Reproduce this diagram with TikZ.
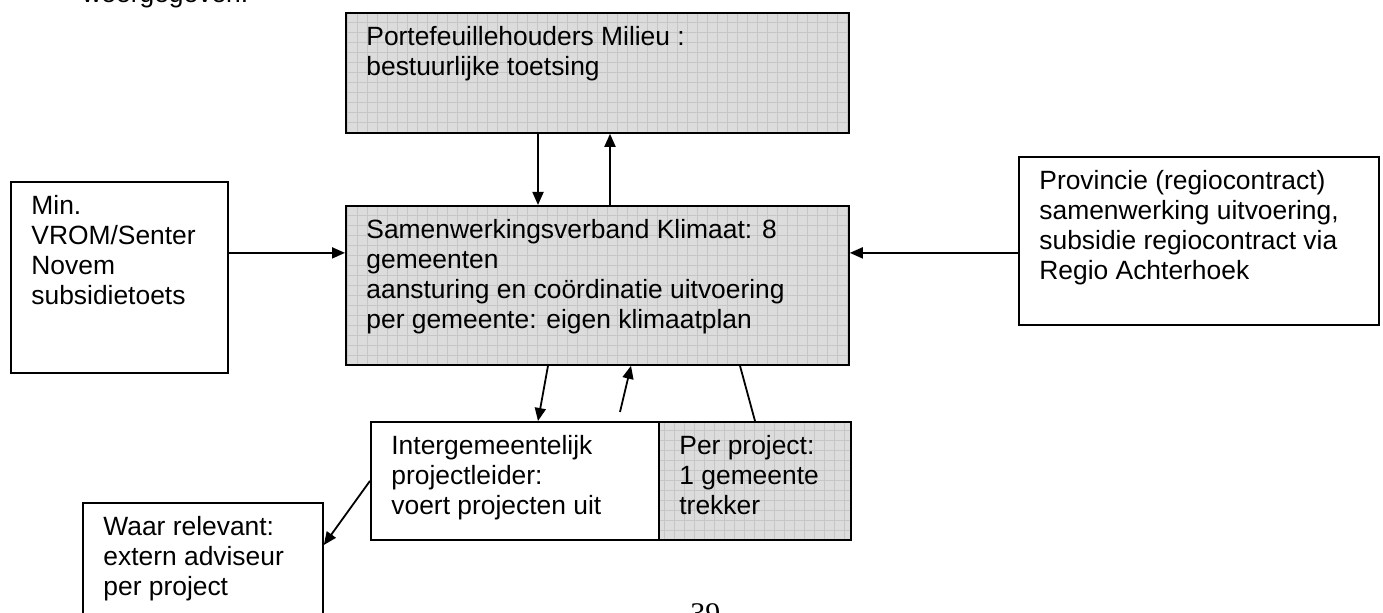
\documentclass[tikz,border=0pt]{standalone}
\usepackage{fontspec}
\setmainfont{Liberation Sans}
\newfontfamily\pagenofont{Liberation Serif}
\usetikzlibrary{arrows.meta}
\definecolor{shadefill}{HTML}{DCDCDC}
\definecolor{shadegrid}{HTML}{C6C6C6}

\begin{document}
\begin{tikzpicture}[x=0.5pt,y=-0.5pt,
    box/.style={draw,line width=0.9pt,inner sep=0pt,anchor=north west},
    shaded/.style={box,fill=shadefill,path picture={
        \draw[shadegrid,line width=0.45pt] (path picture bounding box.south west)
          grid[step=5pt] (path picture bounding box.north east);}},
    txt/.style={align=left,inner sep=0pt,font=\fontsize{13.2}{15}\selectfont},
    inset/.style={txt,anchor=north west,xshift=10.5pt,yshift=-7pt,
        execute at begin node=\strut},
    arr/.style={line width=0.9pt,-{Triangle[length=6.5pt,width=5.5pt]}},
    link/.style={line width=0.9pt}]
  \useasboundingbox (0,0) rectangle (1383,613);
  \clip (0,0) rectangle (1383,613);

  % page text cut off by the crop
  \node[txt,anchor=base west] (intro) at (82,3) {weergegeven.};
  \node[inner sep=0pt,anchor=north west,font=\pagenofont\fontsize{15}{18}\selectfont] (pageno) at (690,603) {39};

  % boxes
  \node[shaded,minimum width=251.5pt,minimum height=60pt] (port) at (345,12) {};
  \node[shaded,minimum width=251.5pt,minimum height=79.5pt] (sam) at (345,205) {};
  \node[box,minimum width=108.5pt,minimum height=95.5pt] (min) at (10,181) {};
  \node[box,minimum width=180pt,minimum height=84pt] (prov) at (1018,156) {};
  \node[box,minimum width=144pt,minimum height=59pt] (inter) at (370,421) {};
  \node[shaded,minimum width=96pt,minimum height=59pt] (per) at (658,421) {};
  \node[box,minimum width=120pt,minimum height=70pt] (waar) at (82,502) {};

  % box texts
  \node[inset] (porttxt) at (port.north west) {Portefeuillehouders Milieu :\\bestuurlijke toetsing};
  \node[inset] (samtxt) at (sam.north west) {Samenwerkingsverband Klimaat: 8\\gemeenten\\aansturing en coördinatie uitvoering\\per gemeente: eigen klimaatplan};
  \node[inset] (mintxt) at (min.north west) {Min.\\VROM/Senter\\Novem\\subsidietoets};
  \node[inset] (provtxt) at (prov.north west) {Provincie (regiocontract)\\samenwerking uitvoering,\\subsidie regiocontract via\\Regio Achterhoek};
  \node[inset] (intertxt) at (inter.north west) {Intergemeentelijk\\projectleider:\\voert projecten uit};
  \node[inset] (pertxt) at (per.north west) {Per project:\\1 gemeente\\trekker};
  \node[inset] (waartxt) at (waar.north west) {Waar relevant:\\extern adviseur\\per project};

  % connectors
  \draw[arr] ([xshift=96.5pt]port.south west) -- ([xshift=96.5pt]sam.north west);
  \draw[arr] ([xshift=132.5pt]sam.north west) -- ([xshift=132.5pt]port.south west);
  \draw[arr] ([yshift=12.25pt]min.east) -- ([yshift=16.25pt]sam.west);
  \draw[arr] ([yshift=-6pt]prov.west) -- ([yshift=16.25pt]sam.east);
  \draw[arr] ([xshift=101.5pt]sam.south west) -- ([xshift=84pt]inter.north west);
  \coordinate (upfoot) at (620,412);
  \draw[arr] (upfoot) -- ([xshift=143pt]sam.south west);
  \draw[link] ([xshift=197.5pt]sam.south west) -- ([xshift=48.5pt]per.north west);
  \draw[arr] (inter.west) -- ([yshift=-21.5pt]waar.north east);
\end{tikzpicture}
\end{document}
